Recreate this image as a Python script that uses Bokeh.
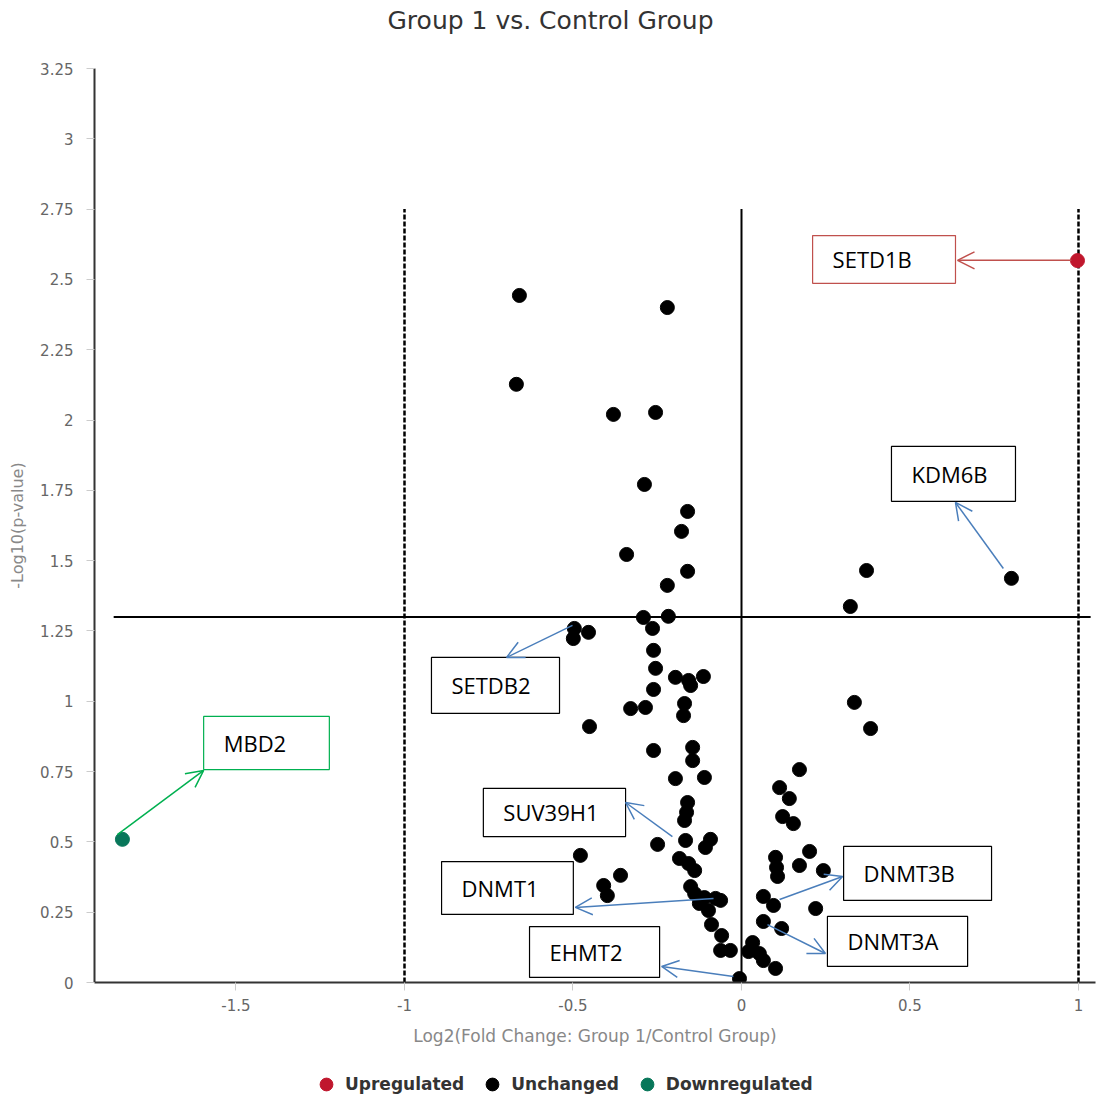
from bokeh.plotting import figure
from bokeh.layouts import column
from bokeh.models import (Range1d, FixedTicker, Legend, LegendItem, Arrow,
                          OpenHead, Title)
from bokeh.core.properties import value
from bokeh.embed import file_html
from bokeh.resources import INLINE

# ---------------- data ----------------
log2fc = [
    -0.659, -0.220, -0.668, -0.380, -0.255, -0.288, -0.160, -0.178, -0.341, -0.160,
    -0.220, -0.291, -0.217, 0.371, 0.801, 0.323,
    -0.264, -0.496, -0.499, -0.454, -0.261, -0.255, -0.196, -0.151, -0.157, -0.113,
    -0.261, -0.329, -0.285, -0.169, -0.172, -0.451, -0.261, -0.145, -0.145, -0.196,
    -0.110, -0.160, -0.163, -0.169, -0.249, -0.166, -0.092, -0.107, -0.478, -0.184,
    -0.157, -0.139, -0.359, -0.409, -0.398, -0.151, -0.139, -0.110, -0.062, -0.077,
    -0.125, -0.098, -0.089, -0.059, -0.062, -0.033, -0.006,
    0.335, 0.383, 0.172, 0.113, 0.142, 0.122, 0.154, 0.202, 0.101, 0.104,
    0.107, 0.172, 0.243, 0.065, 0.095, 0.220, 0.065, 0.119, 0.033, 0.021,
    0.053, 0.065, 0.101,
    0.997, -1.837,
]
neglog10p = [
    2.443, 2.400, 2.127, 2.020, 2.027, 1.771, 1.675, 1.604, 1.522, 1.462,
    1.412, 1.298, 1.302, 1.465, 1.437, 1.337,
    1.259, 1.259, 1.223, 1.245, 1.181, 1.117, 1.085, 1.056, 1.074, 1.088,
    1.042, 0.974, 0.978, 0.992, 0.949, 0.910, 0.825, 0.836, 0.789, 0.725,
    0.729, 0.640, 0.605, 0.576, 0.491, 0.505, 0.509, 0.480, 0.452, 0.441,
    0.423, 0.398, 0.381, 0.345, 0.309, 0.341, 0.316, 0.302, 0.292, 0.299,
    0.281, 0.256, 0.206, 0.167, 0.114, 0.114, 0.014,
    0.996, 0.903, 0.757, 0.693, 0.654, 0.590, 0.565, 0.466, 0.445, 0.409,
    0.377, 0.416, 0.398, 0.306, 0.274, 0.263, 0.217, 0.192, 0.142, 0.110,
    0.103, 0.078, 0.050,
    2.567, 0.509,
]
status = ["Unchanged"] * 86 + ["Upregulated", "Downregulated"]

categories = ["Upregulated", "Unchanged", "Downregulated"]
cat_colors = ["#c0172d", "#000000", "#08775a"]

x_ticks = [-1.5, -1, -0.5, 0, 0.5, 1]
x_tick_labels = ["-1.5", "-1", "-0.5", "0", "0.5", "1"]
y_ticks = [0, 0.25, 0.5, 0.75, 1, 1.25, 1.5, 1.75, 2, 2.25, 2.5, 2.75, 3, 3.25]
y_tick_labels = ["0", "0.25", "0.5", "0.75", "1", "1.25", "1.5", "1.75", "2",
                 "2.25", "2.5", "2.75", "3", "3.25"]

fc_cutoffs = [-1, 1]
p_cutoff = 1.3
guide_top = 2.75

# annotations
ann_labels = ["SETD1B", "KDM6B", "SETDB2", "MBD2", "SUV39H1", "DNMT1", "DNMT3B", "EHMT2", "DNMT3A"]
ann_colors = ["#c0504d", "#4a7ebb", "#4a7ebb", "#00b050", "#4a7ebb", "#4a7ebb", "#4a7ebb", "#4a7ebb", "#4a7ebb"]
box_border = ["#c0504d", "#000000", "#000000", "#00b050", "#000000", "#000000", "#000000", "#000000", "#000000"]
box_left = [0.211, 0.445, -0.920, -1.596, -0.766, -0.890, 0.303, -0.629, 0.255]
box_right = [0.635, 0.813, -0.540, -1.223, -0.344, -0.499, 0.742, -0.243, 0.671]
box_top = [2.656, 1.906, 1.156, 0.946, 0.690, 0.430, 0.484, 0.199, 0.235]
box_bottom = [2.486, 1.711, 0.957, 0.757, 0.519, 0.242, 0.292, 0.018, 0.057]
arr_x0 = [0.979, 0.777, -0.5015, -1.852, -0.205, -0.083, 0.113, -0.024, 0.077]
arr_y0 = [2.568, 1.472, 1.270, 0.526, 0.519, 0.299, 0.295, 0.021, 0.206]
arr_x1 = [0.641, 0.635, -0.697, -1.596, -0.344, -0.493, 0.300, -0.237, 0.249]
arr_y1 = [2.568, 1.707, 1.156, 0.754, 0.640, 0.267, 0.377, 0.057, 0.103]

# ---------------- main figure ----------------
p = figure(width=1100, height=1052, output_backend="svg", toolbar_location=None,
           x_range=Range1d(-1.91988, 1.05045), y_range=Range1d(0, 3.25),
           min_border_left=94, min_border_right=5, min_border_top=68,
           min_border_bottom=70)
p.outline_line_color = None
p.xgrid.visible = False
p.ygrid.visible = False

# spacer title (closest to frame) then the real title above it
p.add_layout(Title(text=" ", text_font_size="29px", standoff=0), "above")
p.add_layout(Title(text="Group 1 vs. Control Group", align="left", offset=293,
                   text_font="DejaVu Sans", text_font_size="25px",
                   text_font_style="normal", text_color="#333333", standoff=0), "above")

for ax in (p.xaxis[0], p.yaxis[0]):
    ax.axis_line_color = "#333333"
    ax.axis_line_width = 2
    ax.major_tick_line_color = "#cccccc"
    ax.major_tick_out = 8
    ax.major_tick_in = 0
    ax.minor_tick_line_color = None
    ax.major_label_text_font = "DejaVu Sans"
    ax.major_label_text_font_size = "15px"
    ax.major_label_text_color = "#666666"
    ax.axis_label_text_font = "DejaVu Sans"
    ax.axis_label_text_font_style = "normal"
    ax.axis_label_text_color = "#888888"

p.xaxis.ticker = FixedTicker(ticks=x_ticks)
p.xaxis.major_label_overrides = dict(zip(x_ticks, x_tick_labels))
p.yaxis.ticker = FixedTicker(ticks=y_ticks)
p.yaxis.major_label_overrides = dict(zip(y_ticks, y_tick_labels))
p.xaxis.axis_label = "Log2(Fold Change: Group 1/Control Group)"
p.xaxis.axis_label_text_font_size = "17px"
p.xaxis.major_label_standoff = 8
p.xaxis.axis_label_standoff = 12
p.yaxis.axis_label = "-Log10(p-value)"
p.yaxis.axis_label_text_font_size = "16px"
p.yaxis.major_label_standoff = 13
p.yaxis.axis_label_standoff = 10

# guide lines
p.segment(x0=fc_cutoffs, y0=[0, 0], x1=fc_cutoffs, y1=[guide_top, guide_top],
          line_color="black", line_width=2.5, line_dash="5 2")
p.segment(x0=[0], y0=[0], x1=[0], y1=[guide_top], line_color="black", line_width=2)
p.segment(x0=[-1.863], y0=[p_cutoff], x1=[1.036], y1=[p_cutoff],
          line_color="black", line_width=2)

# annotation boxes
p.quad(left=box_left, right=box_right, top=box_top, bottom=box_bottom,
       fill_color="white", line_color=box_border, line_width=1.2)
p.text(x=box_left, y=[(t + b) / 2 for t, b in zip(box_top, box_bottom)], text=ann_labels,
       x_offset=20, text_align="left", text_baseline="middle",
       text_font=value("Open Sans"), text_font_size="22px", text_color="black")

# points
for cat, col in zip(categories, cat_colors):
    xs = [x for x, s in zip(log2fc, status) if s == cat]
    ys = [y for y, s in zip(neglog10p, status) if s == cat]
    p.scatter(x=xs, y=ys, size=14, fill_color=col, line_color=col)

# arrows
for x0, y0, x1, y1, c in zip(arr_x0, arr_y0, arr_x1, arr_y1, ann_colors):
    p.add_layout(Arrow(end=OpenHead(size=17, line_color=c, line_width=1.5),
                       x_start=x0, y_start=y0, x_end=x1, y_end=y1,
                       line_color=c, line_width=1.5))

# ---------------- legend strip ----------------
q = figure(width=1100, height=49, output_backend="svg", toolbar_location=None,
           x_axis_type=None, y_axis_type=None,
           x_range=Range1d(0, 1), y_range=Range1d(0, 1),
           min_border_left=0, min_border_right=0, min_border_top=0, min_border_bottom=0)
q.outline_line_color = None
q.xgrid.visible = False
q.ygrid.visible = False
# legend proxies: one marker per category, placed outside the visible range
leg_renderers = [q.scatter(x=[5], y=[5], size=14, fill_color=col, line_color=col)
                 for col in cat_colors]
legend = Legend(items=[LegendItem(label=c, renderers=[r]) for c, r in zip(categories, leg_renderers)],
                orientation="horizontal", location=(216, 1),
                glyph_width=32, glyph_height=32, label_standoff=3, spacing=12,
                padding=0, margin=0, border_line_alpha=0, background_fill_alpha=0,
                label_text_font="DejaVu Sans", label_text_font_style="bold",
                label_text_font_size="17px", label_text_color="#333333")
q.add_layout(legend)

open("out.html", "w").write(file_html(column(p, q, spacing=0), INLINE))
